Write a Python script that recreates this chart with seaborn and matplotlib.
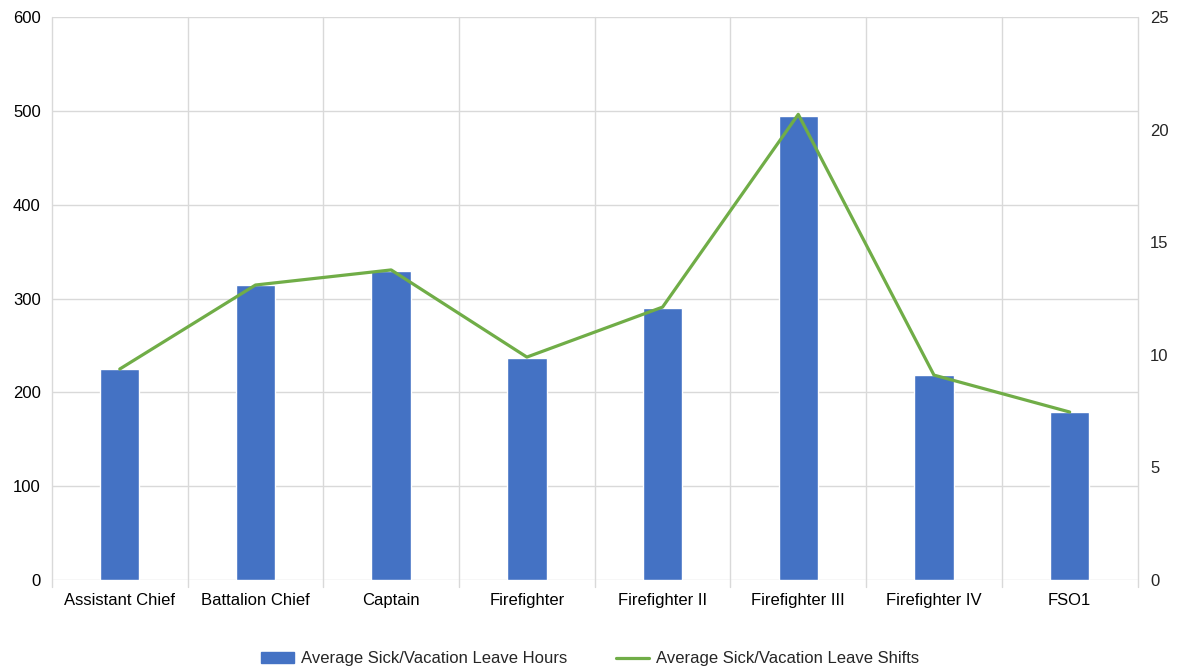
import numpy as np
import pandas as pd
import matplotlib
matplotlib.use("Agg")
import matplotlib.pyplot as plt
import seaborn as sns
from matplotlib.patches import Patch
from matplotlib.lines import Line2D

# chart data
ranks = ["Assistant Chief", "Battalion Chief", "Captain", "Firefighter",
         "Firefighter II", "Firefighter III", "Firefighter IV", "FSO1"]
leave_hours = [225, 314, 329, 237, 290, 495, 219, 179]
leave_shifts = [9.37, 13.1, 13.77, 9.9, 12.12, 20.68, 9.1, 7.46]

bar_color = "#4472C4"
line_color = "#70AD47"
grid_color = "#D9D9D9"

sns.set_style("white")
plt.rcParams["font.family"] = ["Liberation Sans", "DejaVu Sans"]
plt.rcParams["font.size"] = 12

df = pd.DataFrame({"rank": ranks, "hours": leave_hours, "shifts": leave_shifts})

fig = plt.figure(figsize=(11.8, 6.71), dpi=100)
ax = fig.add_axes([0.044, 0.1356, 0.92, 0.839])

sns.barplot(data=df, x="rank", y="hours", color=bar_color, width=0.29,
            saturation=1, ax=ax, zorder=3)
ax.set_ylim(0, 600)
ax.set_xlim(-0.5, len(ranks) - 0.5)
ax.set_yticks(range(0, 601, 100))
ax.set_xlabel("")
ax.set_ylabel("")

# excel-style grid: horizontal from the left axis, vertical between categories
for yv in range(0, 601, 100):
    ax.axhline(yv, color=grid_color, lw=1, zorder=0)
for xv in np.arange(-0.5, len(ranks), 1):
    ax.plot([xv, xv], [-7, 600], color=grid_color, lw=1, zorder=0, clip_on=False)
for s in ax.spines.values():
    s.set_visible(False)
ax.tick_params(axis="x", length=0, pad=9, labelsize=12, colors="black")
ax.tick_params(axis="y", length=0, pad=8, labelsize=12, colors="black")

ax2 = ax.twinx()
sns.lineplot(x=np.arange(len(ranks)), y=leave_shifts, color=line_color,
             lw=2.3, ax=ax2, zorder=4)
ax2.set_ylim(0, 25)
ax2.set_yticks(range(0, 26, 5))
for s in ax2.spines.values():
    s.set_visible(False)
ax2.tick_params(axis="y", length=0, pad=9, labelsize=12)
ax2.set_xlim(-0.5, len(ranks) - 0.5)

handles = [Patch(color=bar_color, label="Average Sick/Vacation Leave Hours"),
           Line2D([], [], color=line_color, lw=2.3, label="Average Sick/Vacation Leave Shifts")]
fig.legend(handles=handles, loc="center", bbox_to_anchor=(0.5, 0.018), ncol=2,
           frameon=False, fontsize=12, handlelength=2.0, handleheight=0.6,
           columnspacing=2.9, handletextpad=0.42)

fig.savefig("out.png", dpi=100)
